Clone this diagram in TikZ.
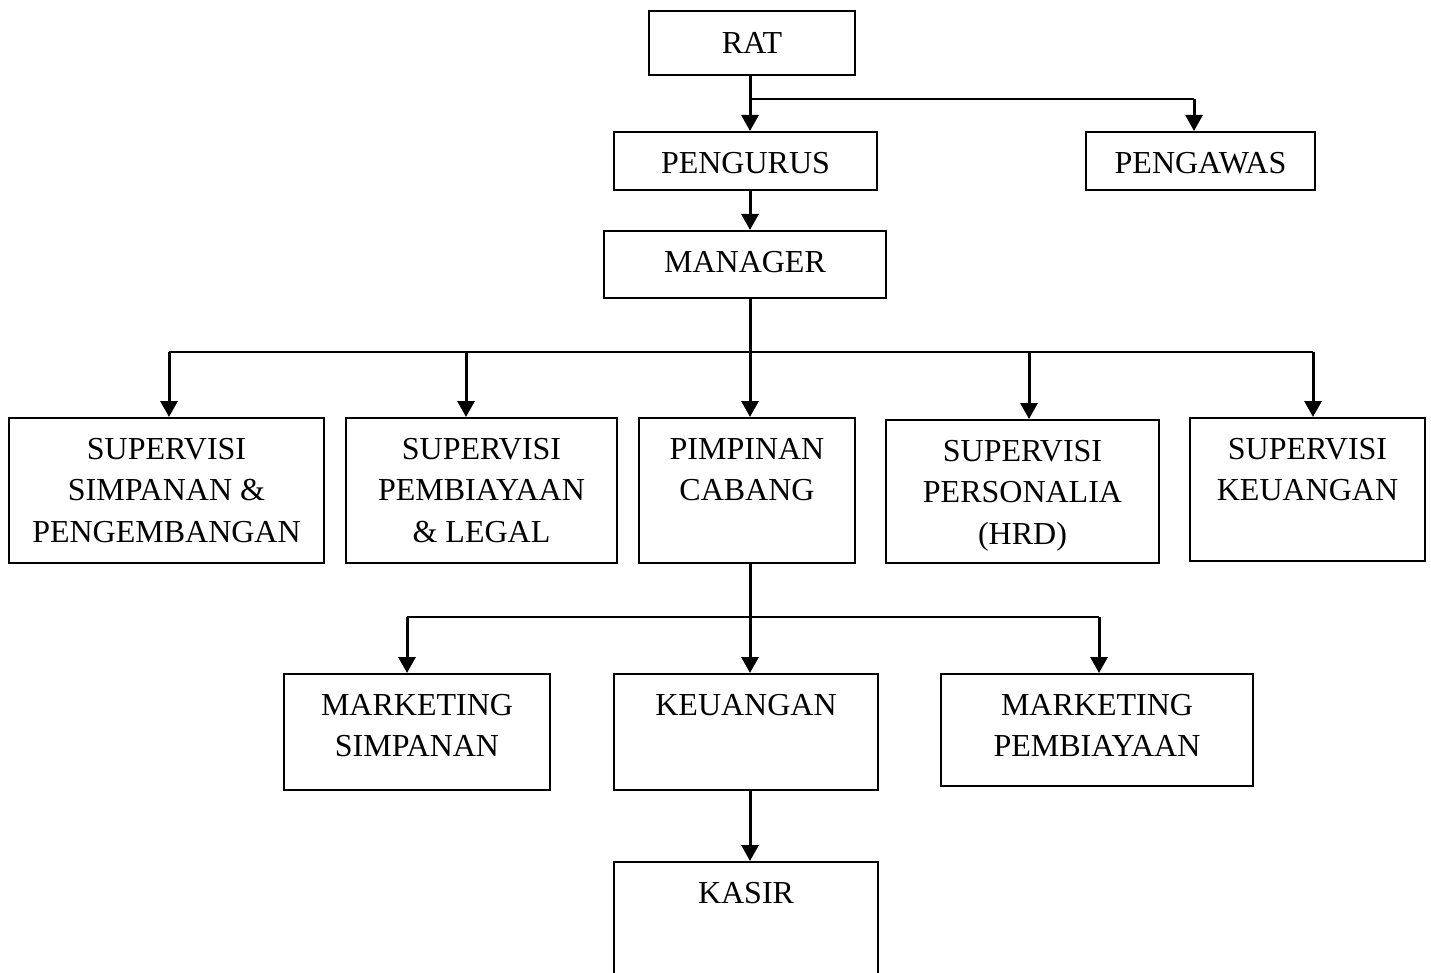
\documentclass[tikz,border=0pt]{standalone}
\usepackage{fontspec}
\setmainfont{Liberation Serif}
\usetikzlibrary{arrows.meta}
\begin{document}
\begin{tikzpicture}[x=1pt,y=-1pt,
  box/.style={draw, line width=2pt, rectangle, inner sep=0pt, anchor=north west},
  lbl/.style={anchor=north, inner sep=0pt, align=center, font=\fontsize{32}{41.5}\selectfont},
  conn/.style={line width=3pt},
  bar/.style={line width=2.2pt},
  arr/.style={conn, -{Triangle[length=16pt,width=17pt]}}]
\useasboundingbox (0,0) rectangle (1431,973);
\clip (0,0) rectangle (1431,973);
% boxes
\node[box, minimum width=206pt, minimum height=64pt] (rat) at (648,10) {};
\node[box, minimum width=263pt, minimum height=58pt] (peng) at (613,131) {};
\node[box, minimum width=229pt, minimum height=58pt] (pengawas) at (1085,131) {};
\node[box, minimum width=282pt, minimum height=67pt] (manager) at (603,230) {};
\node[box, minimum width=315pt, minimum height=145pt] (sup1) at (8,417) {};
\node[box, minimum width=271pt, minimum height=145pt] (sup2) at (345,417) {};
\node[box, minimum width=216pt, minimum height=145pt] (pimp) at (638,417) {};
\node[box, minimum width=273pt, minimum height=143pt] (sup3) at (885,419) {};
\node[box, minimum width=235pt, minimum height=143pt] (sup4) at (1189,417) {};
\node[box, minimum width=266pt, minimum height=116pt] (ms) at (283,673) {};
\node[box, minimum width=264pt, minimum height=116pt] (keu) at (613,673) {};
\node[box, minimum width=312pt, minimum height=112pt] (mp) at (940,673) {};
\node[box, minimum width=264pt, minimum height=140pt] (kasir) at (613,861) {};
% labels
\node[lbl] (ratt) at ([yshift=-22pt]rat.north) {RAT};
\node[lbl] (pengt) at ([yshift=-21pt]peng.north) {PENGURUS};
\node[lbl] (pengawast) at ([yshift=-21pt]pengawas.north) {PENGAWAS};
\node[lbl] (managert) at ([yshift=-21pt]manager.north) {MANAGER};
\node[lbl] (sup1t) at ([yshift=-21pt]sup1.north) {SUPERVISI\\SIMPANAN \&\\PENGEMBANGAN};
\node[lbl] (sup2t) at ([yshift=-21pt]sup2.north) {SUPERVISI\\PEMBIAYAAN\\\& LEGAL};
\node[lbl] (pimpt) at ([yshift=-21pt]pimp.north) {PIMPINAN\\CABANG};
\node[lbl] (sup3t) at ([yshift=-21pt]sup3.north) {SUPERVISI\\PERSONALIA\\(HRD)};
\node[lbl] (sup4t) at ([yshift=-21pt]sup4.north) {SUPERVISI\\KEUANGAN};
\node[lbl] (mst) at ([yshift=-21pt]ms.north) {MARKETING\\SIMPANAN};
\node[lbl] (keut) at ([yshift=-21pt]keu.north) {KEUANGAN};
\node[lbl] (mpt) at ([yshift=-21pt]mp.north) {MARKETING\\PEMBIAYAAN};
\node[lbl] (kasirt) at ([yshift=-21pt]kasir.north) {KASIR};
% connectors
\coordinate (t0) at (750,99);
\coordinate (t1) at (1194,99);
\draw[arr] (t0 |- rat.south) -- (t0 |- peng.north);
\draw[bar] (t0) -- (t1);
\draw[arr] (t1) -- (t1 |- pengawas.north);
\draw[arr] (t0 |- peng.south) -- (t0 |- manager.north);
\coordinate (m0) at (750,352);
\coordinate (mL) at (169,352);
\coordinate (m2) at (466,352);
\coordinate (m4) at (1029,352);
\coordinate (mR) at (1313,352);
\draw[conn] (m0 |- manager.south) -- (m0);
\draw[bar] (mL) -- (mR);
\draw[arr] (mL) -- (mL |- sup1.north);
\draw[arr] (m2) -- (m2 |- sup2.north);
\draw[arr] (m0) -- (m0 |- pimp.north);
\draw[arr] (m4) -- (m4 |- sup3.north);
\draw[arr] (mR) -- (mR |- sup4.north);
\coordinate (p0) at (750,617);
\coordinate (pL) at (407,617);
\coordinate (pR) at (1099,617);
\draw[conn] (p0 |- pimp.south) -- (p0);
\draw[bar] (pL) -- (pR);
\draw[arr] (pL) -- (pL |- ms.north);
\draw[arr] (p0) -- (p0 |- keu.north);
\draw[arr] (pR) -- (pR |- mp.north);
\draw[arr] (p0 |- keu.south) -- (p0 |- kasir.north);
\end{tikzpicture}
\end{document}
